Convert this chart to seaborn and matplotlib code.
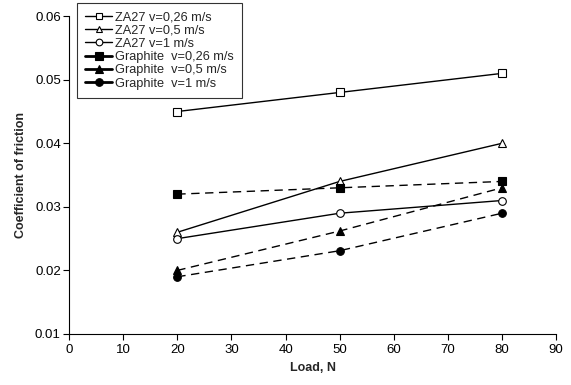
import matplotlib
matplotlib.use("Agg")
import matplotlib.pyplot as plt
import seaborn as sns
import pandas as pd

loads = [20, 50, 80]
za27_026 = [0.045, 0.048, 0.051]
za27_05 = [0.026, 0.034, 0.040]
za27_1 = [0.025, 0.029, 0.031]
gr_026 = [0.032, 0.033, 0.034]
gr_05 = [0.020, 0.0262, 0.033]
gr_1 = [0.019, 0.0231, 0.029]
labels = ["ZA27 v=0,26 m/s", "ZA27 v=0,5 m/s", "ZA27 v=1 m/s",
          "Graphite  v=0,26 m/s", "Graphite  v=0,5 m/s", "Graphite  v=1 m/s"]
series = [za27_026, za27_05, za27_1, gr_026, gr_05, gr_1]

sns.set_theme(style="ticks")
plt.rcParams['font.family'] = ['Liberation Sans', 'DejaVu Sans']

fig = plt.figure(figsize=(5.71, 3.85), dpi=100)
ax = fig.add_axes([0.121, 0.1325, 0.853, 0.8255])

markers = ['s', '^', 'o', 's', '^', 'o']
for i, (lab, vals) in enumerate(zip(labels, series)):
    df = pd.DataFrame({"x": loads, "y": vals})
    filled = i >= 3
    sns.lineplot(data=df, x="x", y="y", ax=ax, color="black", lw=1.0,
                 marker=markers[i], markersize=5.5 if markers[i] != '^' else 6,
                 markerfacecolor="black" if filled else "white",
                 markeredgecolor="black", markeredgewidth=0.8,
                 linestyle=(0, (6, 4)) if filled else "-", label=lab,
                 legend=False)

ax.set_xlim(0, 90)
ax.set_ylim(0.01, 0.06)
ax.set_xticks(range(0, 91, 10))
ax.set_yticks([0.01, 0.02, 0.03, 0.04, 0.05, 0.06])
ax.set_yticklabels(["0.01", "0.02", "0.03", "0.04", "0.05", "0.06"])
ax.tick_params(axis='both', labelsize=9.5, length=4, width=0.8, color='black', labelcolor='black', direction='out')
ax.tick_params(axis='y', pad=2)
ax.set_xlabel("Load, N", fontsize=9, fontweight='bold', labelpad=4)
ax.set_ylabel("Coefficient of friction", fontsize=9, fontweight='bold', labelpad=6)
for s in ['top', 'right']:
    ax.spines[s].set_visible(False)
for s in ['left', 'bottom']:
    ax.spines[s].set_color('black')
    ax.spines[s].set_linewidth(0.8)

leg = fig.legend(handles=ax.get_lines(), labels=labels, loc='upper left',
                 bbox_to_anchor=(77/571, 1 - 3/385), frameon=True, fancybox=False,
                 edgecolor='black', fontsize=9.2, handlelength=2.1, handletextpad=0.25,
                 labelspacing=0.1, borderpad=0.65, borderaxespad=0)
leg.get_frame().set_linewidth(0.8)
for i, h in enumerate(leg.get_lines()):
    h.set_linestyle('-')
    if i >= 3:
        h.set_linewidth(2.0)
        h.set_markersize(5.5)
    else:
        h.set_markersize(4.8)

fig.savefig("out.png", dpi=100)
